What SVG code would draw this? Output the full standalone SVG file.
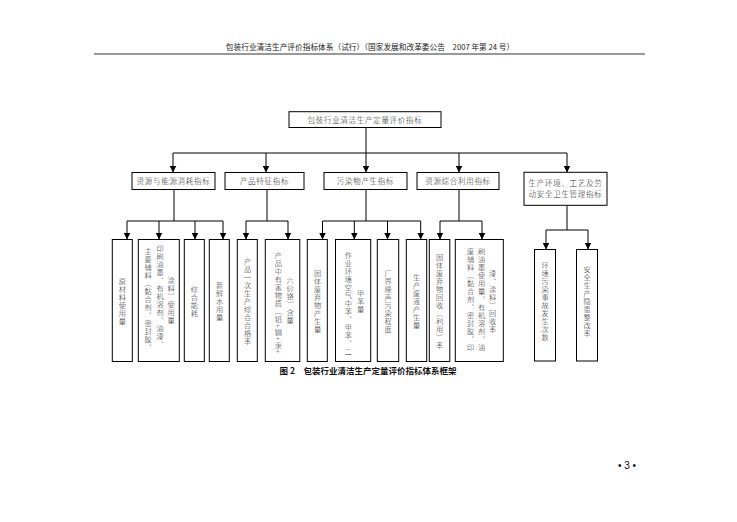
<svg xmlns="http://www.w3.org/2000/svg" width="737" height="522" viewBox="0 0 737 522">
<style>
  .bg { fill: #ffffff; }
  .box { fill: #ffffff; stroke: #000000; stroke-width: 1; }
  .ln { fill: none; stroke: #000000; stroke-width: 1; }
  .t { font-family: 'Noto Sans CJK SC', 'Noto Sans', sans-serif; font-size: 7.5px; font-weight: 300; fill: #2a2a2a; letter-spacing: 0.7px; }
  .v { font-family: 'Noto Sans CJK SC', 'Noto Sans', sans-serif; font-size: 7.2px; font-weight: 300; fill: #2a2a2a; letter-spacing: 0.8px; writing-mode: vertical-rl; }
  .hdr { font-family: 'Noto Sans CJK SC', 'Noto Sans', sans-serif; font-size: 7.7px; fill: #222222; }
  .cap { font-family: 'Noto Sans CJK SC', 'Noto Sans', sans-serif; font-size: 8.5px; fill: #111111; font-weight: bold; }
  .pg { font-family: 'Liberation Sans', Arial, sans-serif; font-size: 10px; fill: #111111; }
</style>
<defs>
  <marker id="arr" markerUnits="userSpaceOnUse" markerWidth="7" markerHeight="7" refX="7" refY="3.5" orient="auto">
    <path d="M0,0 L7,3.5 L0,7 z" fill="#000000"/>
  </marker>
</defs>
<rect class="bg" x="0" y="0" width="737" height="522"/>

<g id="header">
  <text class="hdr" x="370" y="50" text-anchor="middle">包装行业清洁生产评价指标体系（试行）（国家发展和改革委公告　2007 年第 24 号）</text>
  <line x1="94" y1="54" x2="645" y2="54" stroke="#333333" stroke-width="1"/>
</g>

<g id="connectors">
  <line class="ln" x1="366" y1="127.5" x2="366" y2="153"/>
  <line class="ln" x1="173" y1="153" x2="567" y2="153"/>
  <line class="ln" x1="173" y1="153" x2="173" y2="172.5" marker-end="url(#arr)"/>
  <line class="ln" x1="266" y1="153" x2="266" y2="172.5" marker-end="url(#arr)"/>
  <line class="ln" x1="366" y1="153" x2="366" y2="172.5" marker-end="url(#arr)"/>
  <line class="ln" x1="459" y1="153" x2="459" y2="172.5" marker-end="url(#arr)"/>
  <line class="ln" x1="567" y1="153" x2="567" y2="172.5" marker-end="url(#arr)"/>
  <line class="ln" x1="174" y1="189.5" x2="174" y2="221"/>
  <line class="ln" x1="127" y1="221" x2="223" y2="221"/>
  <line class="ln" x1="127" y1="221" x2="127" y2="239.5" marker-end="url(#arr)"/>
  <line class="ln" x1="159" y1="221" x2="159" y2="239.5" marker-end="url(#arr)"/>
  <line class="ln" x1="195" y1="221" x2="195" y2="239.5" marker-end="url(#arr)"/>
  <line class="ln" x1="223" y1="221" x2="223" y2="239.5" marker-end="url(#arr)"/>
  <line class="ln" x1="267" y1="189.5" x2="267" y2="221"/>
  <line class="ln" x1="246" y1="221" x2="288" y2="221"/>
  <line class="ln" x1="246" y1="221" x2="246" y2="239.5" marker-end="url(#arr)"/>
  <line class="ln" x1="288" y1="221" x2="288" y2="239.5" marker-end="url(#arr)"/>
  <line class="ln" x1="366" y1="189.5" x2="366" y2="221"/>
  <line class="ln" x1="322.5" y1="221" x2="420.7" y2="221"/>
  <line class="ln" x1="322.5" y1="221" x2="322.5" y2="239.5" marker-end="url(#arr)"/>
  <line class="ln" x1="354.3" y1="221" x2="354.3" y2="239.5" marker-end="url(#arr)"/>
  <line class="ln" x1="387.5" y1="221" x2="387.5" y2="239.5" marker-end="url(#arr)"/>
  <line class="ln" x1="420.7" y1="221" x2="420.7" y2="239.5" marker-end="url(#arr)"/>
  <line class="ln" x1="459" y1="189.5" x2="459" y2="221"/>
  <line class="ln" x1="440" y1="221" x2="482" y2="221"/>
  <line class="ln" x1="440" y1="221" x2="440" y2="239.5" marker-end="url(#arr)"/>
  <line class="ln" x1="482" y1="221" x2="482" y2="239.5" marker-end="url(#arr)"/>
  <line class="ln" x1="567" y1="205.5" x2="567" y2="230"/>
  <line class="ln" x1="546" y1="230" x2="588" y2="230"/>
  <line class="ln" x1="546" y1="230" x2="546" y2="249.5" marker-end="url(#arr)"/>
  <line class="ln" x1="588" y1="230" x2="588" y2="249.5" marker-end="url(#arr)"/>
</g>

<g id="root">
  <rect class="box" x="289" y="111.7" width="152" height="15.8"/>
  <text class="t" x="365" y="122.6" text-anchor="middle">包装行业清洁生产定量评价指标</text>
</g>

<g id="n-resource-energy">
  <rect class="box" x="132" y="172.5" width="83" height="17"/>
  <text class="t" x="173.5" y="184" text-anchor="middle">资源与能源消耗指标</text>
</g>
<g id="n-product">
  <rect class="box" x="225" y="172.5" width="79" height="17"/>
  <text class="t" x="264.5" y="184" text-anchor="middle">产品特征指标</text>
</g>
<g id="n-pollutant">
  <rect class="box" x="324" y="172.5" width="83" height="17"/>
  <text class="t" x="365.5" y="184" text-anchor="middle">污染物产生指标</text>
</g>
<g id="n-reuse">
  <rect class="box" x="417" y="172.5" width="82" height="17"/>
  <text class="t" x="458" y="184" text-anchor="middle">资源综合利用指标</text>
</g>
<g id="n-env-safety">
  <rect class="box" x="524" y="172.3" width="83" height="33"/>
  <text class="t" x="565.5" y="186" text-anchor="middle">生产环境、工艺及劳</text>
  <text class="t" x="565.5" y="197" text-anchor="middle">动安全卫生管理指标</text>
</g>

<g id="l-raw-material">
  <rect class="box" x="112.3" y="239.5" width="20" height="122"/>
  <text class="v" x="122.3" y="278">原材料使用量</text>
</g>
<g id="l-aux-material">
  <rect class="box" x="138.3" y="239.5" width="41" height="122"/>
  <text class="v" x="148" y="248">主要辅料（黏合剂、密封胶、</text>
  <text class="v" x="160" y="245">印刷油墨、有机溶剂、油漆、</text>
  <text class="v" x="171" y="277">涂料）使用量</text>
</g>
<g id="l-energy">
  <rect class="box" x="184.3" y="239.5" width="20" height="122"/>
  <text class="v" x="194.3" y="286">综合能耗</text>
</g>
<g id="l-water">
  <rect class="box" x="209.3" y="239.5" width="20" height="122"/>
  <text class="v" x="219.5" y="282">新鲜水用量</text>
</g>
<g id="l-pass-rate">
  <rect class="box" x="237.3" y="239.5" width="20" height="122"/>
  <text class="v" x="247.5" y="258">产品一次生产综合合格率</text>
</g>
<g id="l-hazard">
  <rect class="box" x="265.3" y="239.5" width="34.5" height="122"/>
  <text class="v" x="278.3" y="252">产品中有害物质（铅+镉+汞+</text>
  <text class="v" x="290" y="277">六价铬）含量</text>
</g>
<g id="l-solid-waste">
  <rect class="box" x="307.3" y="239.5" width="20" height="122"/>
  <text class="v" x="317.5" y="270">固体废弃物产生量</text>
</g>
<g id="l-benzene">
  <rect class="box" x="335.5" y="239.5" width="35.2" height="122"/>
  <text class="v" x="348.3" y="252">作业环境空气中苯、甲苯、二</text>
  <text class="v" x="360.7" y="290">甲苯量</text>
</g>
<g id="l-noise">
  <rect class="box" x="377.3" y="239.5" width="21.4" height="122"/>
  <text class="v" x="388" y="270">厂界噪声污染程度</text>
</g>
<g id="l-waste-liquid">
  <rect class="box" x="406.3" y="239.5" width="20.4" height="122"/>
  <text class="v" x="416.5" y="274">生产废液产生量</text>
</g>
<g id="l-solid-recycle">
  <rect class="box" x="429.3" y="239.5" width="20.5" height="122"/>
  <text class="v" x="439.7" y="254">固体废弃物回收（利用）率</text>
</g>
<g id="l-aux-recycle">
  <rect class="box" x="455.3" y="239.5" width="48" height="122"/>
  <text class="v" x="470.7" y="248">废辅料（黏合剂、密封胶、印</text>
  <text class="v" x="481.7" y="248">刷油墨使用量、有机溶剂、油</text>
  <text class="v" x="492.7" y="270">漆、涂料）回收率</text>
</g>
<g id="l-accident">
  <rect class="box" x="534.5" y="249.5" width="21" height="111.5"/>
  <text class="v" x="545.2" y="262">环境污染事故发生次数</text>
</g>
<g id="l-hazard-fix">
  <rect class="box" x="576.5" y="249.5" width="21" height="111.5"/>
  <text class="v" x="587.2" y="266">安全生产隐患整改率</text>
</g>

<g id="caption">
  <text class="cap" x="368" y="373.5" text-anchor="middle">图 2　包装行业清洁生产定量评价指标体系框架</text>
</g>
<g id="page-number">
  <text class="pg" x="627" y="469" text-anchor="middle">• 3 •</text>
</g>
</svg>
